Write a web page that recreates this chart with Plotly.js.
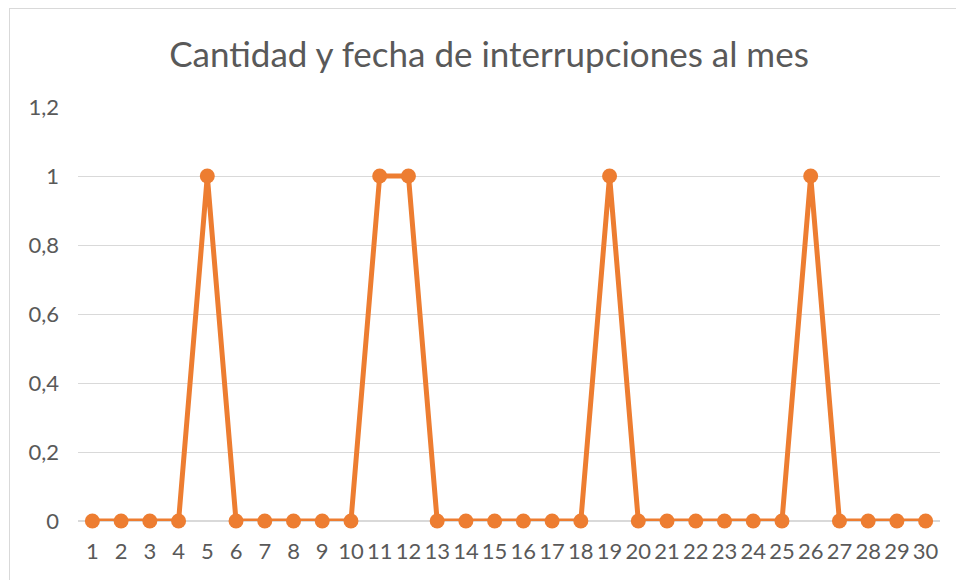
<!DOCTYPE html>
<html><head><meta charset="utf-8">
<script src="https://cdn.plot.ly/plotly-3.0.1.min.js"></script>
<style>
html,body{margin:0;padding:0;background:#fff;overflow:hidden;width:956px;height:580px;}
#frame{position:absolute;left:9px;top:8px;width:1000px;height:650px;border:1px solid #d9d9d9;box-sizing:border-box;}
#chart{position:absolute;left:0;top:0;width:956px;height:580px;}
</style></head>
<body>
<div id="frame"></div>
<div id="chart"></div>
<script>
const days = [1,2,3,4,5,6,7,8,9,10,11,12,13,14,15,16,17,18,19,20,21,22,23,24,25,26,27,28,29,30];
const interrupciones = [0,0,0,0,1,0,0,0,0,0,1,1,0,0,0,0,0,0,1,0,0,0,0,0,0,1,0,0,0,0];
const yTicks = [0,0.2,0.4,0.6,0.8,1,1.2];
const yLabels = ['0','0,2','0,4','0,6','0,8','1','1,2'];
const font = 'Lato, "Open Sans", sans-serif';
Plotly.newPlot('chart', [{
  x: days, y: interrupciones, type:'scatter', mode:'lines+markers',
  line:{color:'#ED7D31', width:5},
  marker:{color:'#ED7D31', size:15},
  cliponaxis:false, hoverinfo:'none'
}], {
  width:956, height:580,
  paper_bgcolor:'rgba(0,0,0,0)', plot_bgcolor:'rgba(0,0,0,0)',
  margin:{l:78, r:16, t:107, b:59},
  showlegend:false,
  title:{text:'Cantidad y fecha de interrupciones al mes', x:0.5115, xanchor:'center', y:0.905, yanchor:'middle',
    font:{family:font, size:35, color:'#595959'}},
  xaxis:{range:[0.5,30.5], tickvals:days, ticktext:days.map(String), showgrid:false, zeroline:false,
    showline:false, ticks:'', ticklabelstandoff:15, tickfont:{family:font, size:22, color:'#595959'}, fixedrange:true},
  yaxis:{range:[0,1.2], tickvals:yTicks, ticktext:yLabels, showgrid:true, gridcolor:'#d9d9d9', gridwidth:1,
    zeroline:true, zerolinecolor:'#d9d9d9', zerolinewidth:2, showline:false, ticks:'', ticklen:0,
    ticklabelstandoff:18, tickfont:{family:font, size:22, color:'#595959'}, fixedrange:true}
}, {displayModeBar:false, staticPlot:true});
</script>
</body></html>
